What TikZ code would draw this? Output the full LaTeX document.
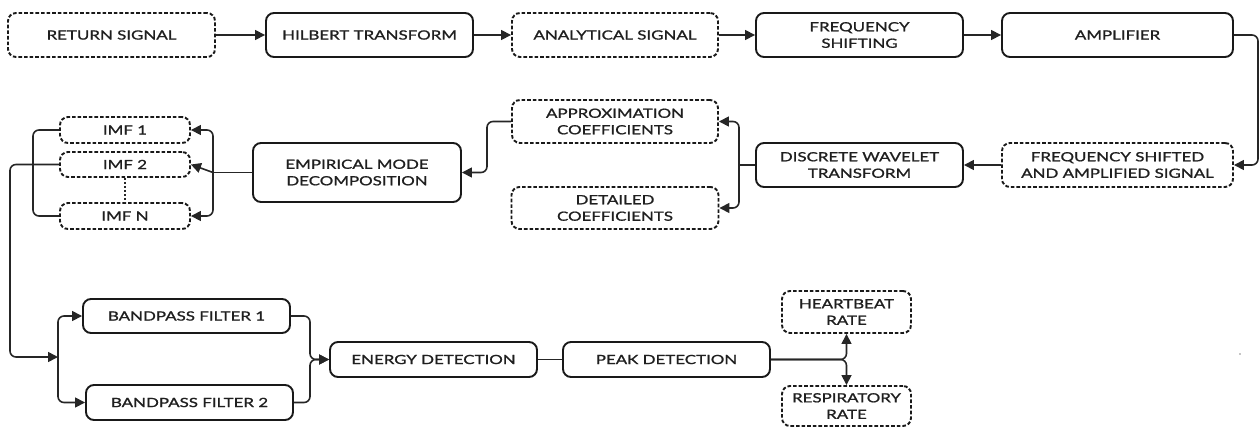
\documentclass[tikz,border=0pt]{standalone}
\usepackage{fontspec}
\setmainfont{Lato}[FakeStretch=1.33,FakeBold=1.2]
\usetikzlibrary{arrows.meta}
\begin{document}
\begin{tikzpicture}[x=1pt,y=-1pt,
  font=\fontsize{12.7}{16.5}\selectfont,
  boxsolid/.style={draw=black!90, line width=1.9pt, rounded corners=8pt, align=center, inner sep=0pt, text=black!88},
  boxdash/.style={boxsolid, dash pattern=on 3.6pt off 2pt},
  conn/.style={draw=black!85, line width=1.6pt, rounded corners=6pt},
  arr/.style={conn, -{Triangle[length=10pt,width=10pt]}}
]
\useasboundingbox (0,0) rectangle (1260,428);
% top row
\node[boxdash, minimum width=207pt, minimum height=44pt] (rs) at (111.5,35) {RETURN SIGNAL};
\node[boxsolid, minimum width=207pt, minimum height=44pt] (ht) at (369.5,35) {HILBERT TRANSFORM};
\node[boxdash, minimum width=206pt, minimum height=44pt] (as) at (615,35) {ANALYTICAL SIGNAL};
\node[boxsolid, minimum width=207pt, minimum height=44pt] (fs) at (859.5,35) {FREQUENCY\\SHIFTING};
\node[boxsolid, minimum width=231pt, minimum height=44pt] (amp) at (1117.5,35) {AMPLIFIER};
% second row
\node[boxdash, minimum width=231pt, minimum height=44pt] (fsa) at (1117.5,165) {FREQUENCY SHIFTED\\AND AMPLIFIED SIGNAL};
\node[boxsolid, minimum width=207pt, minimum height=44pt] (dwt) at (859.5,165) {DISCRETE WAVELET\\TRANSFORM};
\node[boxdash, minimum width=206pt, minimum height=43pt] (ac) at (615,121.5) {APPROXIMATION\\COEFFICIENTS};
\node[boxdash, minimum width=207pt, minimum height=42pt] (dc) at (615,208) {DETAILED\\COEFFICIENTS};
\node[boxsolid, minimum width=208pt, minimum height=59pt] (emd) at (357,172.5) {EMPIRICAL MODE\\DECOMPOSITION};
\node[boxdash, minimum width=130pt, minimum height=26pt] (imf1) at (125,130) {IMF 1};
\node[boxdash, minimum width=130pt, minimum height=25pt] (imf2) at (125,164.5) {IMF 2};
\node[boxdash, minimum width=130pt, minimum height=26pt] (imfn) at (125,216) {IMF N};
% bottom row
\node[boxsolid, minimum width=207pt, minimum height=34pt] (bp1) at (186.5,316) {BANDPASS FILTER 1};
\node[boxsolid, minimum width=207pt, minimum height=35pt] (bp2) at (189.5,402.5) {BANDPASS FILTER 2};
\node[boxsolid, minimum width=207pt, minimum height=35pt] (ed) at (433.5,359.5) {ENERGY DETECTION};
\node[boxsolid, minimum width=207pt, minimum height=35pt] (pd) at (666.5,359.5) {PEAK DETECTION};
\node[boxdash, minimum width=129pt, minimum height=42pt] (hr) at (846.5,312) {HEARTBEAT\\RATE};
\node[boxdash, minimum width=129pt, minimum height=40pt] (rr) at (846.5,406) {RESPIRATORY\\RATE};
% coordinates
\coordinate (ampr) at (1258,35);
\coordinate (dwtj) at (739,165);
\coordinate (acj) at (487,121.5);
\coordinate (emdj) at (213,172.5);
\coordinate (imfl) at (33,130);
\coordinate (imf2l) at (10,164.5);
\coordinate (bj) at (58,357);
\coordinate (bpr1) at (310,316);
\coordinate (bpr2) at (310,402.5);
% connectors
\draw[arr] (rs.east) -- (ht.west);
\draw[arr] (ht.east) -- (as.west);
\draw[arr] (as.east) -- (fs.west);
\draw[arr] (fs.east) -- (amp.west);
\draw[arr] (amp.east) -- (ampr) |- (fsa.east);
\draw[arr] (fsa.west) -- (dwt.east);
\draw[conn] (dwt.west) -- (dwtj);
\draw[arr] (dwtj) |- (ac.east);
\draw[arr] (dwtj) |- (dc.east);
\draw[arr] (ac.west) -- (acj) |- (emd.east);
\draw[conn] (emd.west) -- (emdj);
\draw[arr] (emdj) |- (imf1.east);
\draw[arr] (emdj) |- (imfn.east);
\draw[arr, rounded corners=0pt] (emdj) -- (imf2.east);
\draw[conn] (imf1.west) -- (imfl) |- (imfn.west);
\draw[draw=black!85, line width=1.5pt, dash pattern=on 2.5pt off 1.5pt] (imf2.south) -- (imfn.north);
\draw[arr] (imf2.west) -- (imf2l) |- (bj);
\draw[arr] (bj) |- (bp1.west);
\draw[arr] (bj) |- (bp2.west);
\draw[arr] (bp1.east) -- (bpr1) |- (ed.west);
\draw[arr] (bp2.east) -- (bpr2) |- (ed.west);
\draw[conn] (ed.east) -- (pd.west);
\draw[arr] (pd.east) -| (hr.south);
\draw[arr] (pd.east) -| (rr.north);
\fill[black!45] (1240,354) circle (0.8pt);
\end{tikzpicture}
\end{document}
